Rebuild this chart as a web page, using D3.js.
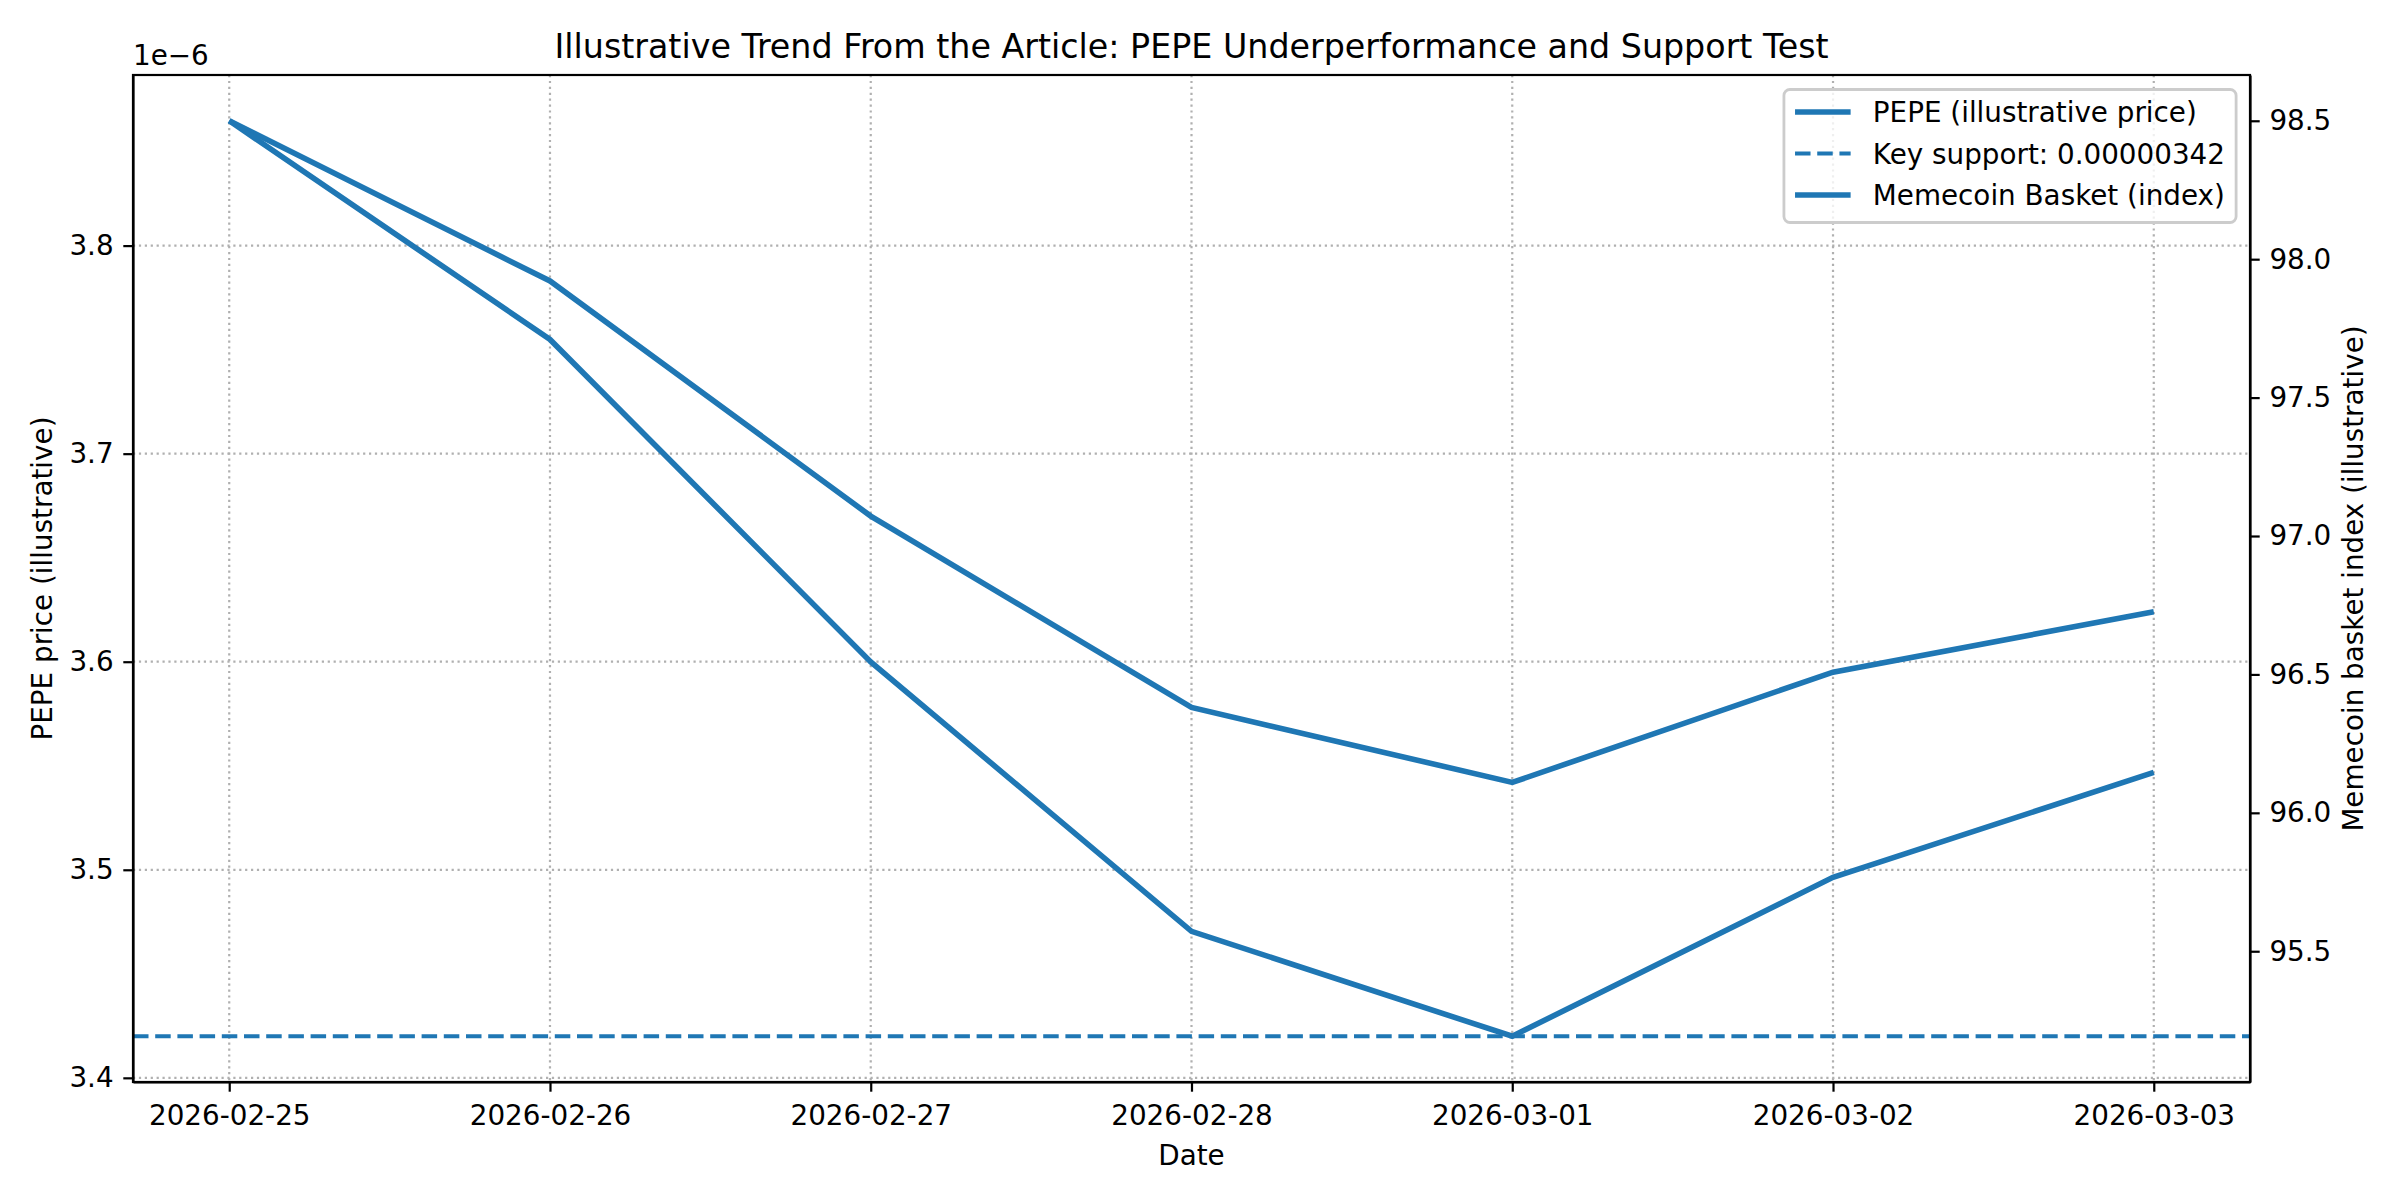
<!DOCTYPE html>
<html lang="en">
<head>
<meta charset="utf-8">
<title>PEPE Underperformance and Support Test</title>
<script src="https://cdn.jsdelivr.net/npm/d3@7/dist/d3.min.js"></script>
<style>
body { margin: 0; background: #fff; }
svg text { font-family: "DejaVu Sans", sans-serif; fill: #000; }
.axis path, .axis line { stroke: #000; stroke-width: 2.2; }
.grid line { stroke: #b0b0b0; stroke-width: 2.2; stroke-dasharray: 2.2,3.7; }
</style>
</head>
<body>
<div id="chart"></div>
<script>
// data
var dates = ['2026-02-25', '2026-02-26', '2026-02-27', '2026-02-28', '2026-03-01', '2026-03-02', '2026-03-03'];
var pepe = [3.860e-6, 3.783e-6, 3.670e-6, 3.578e-6, 3.542e-6, 3.595e-6, 3.624e-6];
var basket = [98.50, 97.71, 96.545, 95.572, 95.193, 95.767, 96.146];
var support = 3.42e-6;
var leftTicks = [3.4e-6, 3.5e-6, 3.6e-6, 3.7e-6, 3.8e-6];
var rightTicks = [95.5, 96.0, 96.5, 97.0, 97.5, 98.0, 98.5];
var legendLabels = ['PEPE (illustrative price)', 'Key support: 0.00000342', 'Memecoin Basket (index)'];

var W = 2400, H = 1200;
var margin = { top: 75, right: 150, bottom: 118, left: 133 };
var width = W - margin.left - margin.right, height = H - margin.top - margin.bottom;
var blue = '#1f77b4';
var fs = 27.8;

var parse = d3.utcParse('%Y-%m-%d');
var days = dates.map(parse);

// matplotlib-ish 5% margins
function pad(ext) {
  var r = ext[1] - ext[0];
  return [ext[0] - r * 0.05, ext[1] + r * 0.05];
}

var t0 = +days[0], t1 = +days[days.length - 1];
var xScale = d3.scaleUtc()
  .domain(pad([t0, t1]).map(function(d) { return new Date(d); }))
  .range([0, width]);

var yLeft = d3.scaleLinear()
  .domain(pad([d3.min(pepe.concat([support])), d3.max(pepe)]))
  .range([height, 0]);

var yRight = d3.scaleLinear()
  .domain(pad(d3.extent(basket)))
  .range([height, 0]);

var svg = d3.select('#chart').append('svg')
  .attr('width', W)
  .attr('height', H);

var graph = svg.append('g')
  .attr('transform', 'translate(' + margin.left + ',' + margin.top + ')');

// grid
var grid = graph.append('g').attr('class', 'grid');
grid.selectAll('.gx').data(days).enter().append('line')
  .attr('x1', function(d) { return xScale(d); })
  .attr('x2', function(d) { return xScale(d); })
  .attr('y1', 0).attr('y2', height);
grid.selectAll('.gy').data(leftTicks).enter().append('line')
  .attr('x1', 0).attr('x2', width)
  .attr('y1', function(d) { return yLeft(d); })
  .attr('y2', function(d) { return yLeft(d); });

// lines
var pepeLine = d3.line()
  .x(function(d, i) { return xScale(days[i]); })
  .y(function(d) { return yLeft(d); });
var basketLine = d3.line()
  .x(function(d, i) { return xScale(days[i]); })
  .y(function(d) { return yRight(d); });

graph.append('path')
  .datum(pepe)
  .attr('d', pepeLine)
  .attr('fill', 'none')
  .attr('stroke', blue)
  .attr('stroke-width', 5.6);

graph.append('line')
  .attr('x1', 0).attr('x2', width)
  .attr('y1', yLeft(support)).attr('y2', yLeft(support))
  .attr('stroke', blue)
  .attr('stroke-width', 4.2)
  .attr('stroke-dasharray', '15.5,6.7');

graph.append('path')
  .datum(basket)
  .attr('d', basketLine)
  .attr('fill', 'none')
  .attr('stroke', blue)
  .attr('stroke-width', 5.6);

// axes
var xAxis = graph.append('g')
  .attr('class', 'axis')
  .attr('transform', 'translate(0,' + height + ')')
  .call(d3.axisBottom(xScale).tickValues(days).tickFormat(d3.utcFormat('%Y-%m-%d'))
    .tickSize(9.7).tickPadding(13.5).tickSizeOuter(0));

var leftAxis = graph.append('g')
  .attr('class', 'axis')
  .call(d3.axisLeft(yLeft).tickValues(leftTicks)
    .tickFormat(function(d) { return d3.format('.1f')(d * 1e6); })
    .tickSize(9.7).tickPadding(9.7).tickSizeOuter(0));

var rightAxis = graph.append('g')
  .attr('class', 'axis')
  .attr('transform', 'translate(' + width + ',0)')
  .call(d3.axisRight(yRight).tickValues(rightTicks).tickFormat(d3.format('.1f'))
    .tickSize(9.7).tickPadding(9.7).tickSizeOuter(0));

graph.selectAll('.axis text').style('font-size', fs + 'px').style('font-family', '"DejaVu Sans", sans-serif');

// frame
graph.append('rect')
  .attr('width', width).attr('height', height)
  .attr('fill', 'none').attr('stroke', '#000').attr('stroke-width', 2.2);

// offset text
graph.append('text')
  .attr('x', 0).attr('y', -10)
  .style('font-size', fs + 'px')
  .text('1e\u22126');

// title and labels
svg.append('text')
  .attr('x', margin.left + width / 2).attr('y', 58)
  .attr('text-anchor', 'middle')
  .style('font-size', '33.3px')
  .text('Illustrative Trend From the Article: PEPE Underperformance and Support Test');

svg.append('text')
  .attr('x', margin.left + width / 2).attr('y', 1165)
  .attr('text-anchor', 'middle')
  .style('font-size', fs + 'px')
  .text('Date');

svg.append('text')
  .attr('transform', 'translate(52,' + (margin.top + height / 2) + ') rotate(-90)')
  .attr('text-anchor', 'middle')
  .style('font-size', fs + 'px')
  .text('PEPE price (illustrative)');

svg.append('text')
  .attr('transform', 'translate(2363,' + (margin.top + height / 2) + ') rotate(-90)')
  .attr('text-anchor', 'middle')
  .style('font-size', fs + 'px')
  .text('Memecoin basket index (illustrative)');

// legend
var legend = graph.append('g');
var box = legend.append('rect')
  .attr('rx', 6).attr('ry', 6)
  .attr('fill', 'rgba(255,255,255,0.8)')
  .attr('stroke', '#cccccc')
  .attr('stroke-width', 2.8);

var rowY = [37, 78.5, 120];
var items = legend.selectAll('.item').data(legendLabels).enter().append('g')
  .attr('transform', function(d, i) { return 'translate(0,' + rowY[i] + ')'; });

items.append('line')
  .attr('x1', 0).attr('x2', 55.6)
  .attr('stroke', blue)
  .attr('stroke-width', function(d, i) { return i === 1 ? 4.2 : 5.6; })
  .attr('stroke-dasharray', function(d, i) { return i === 1 ? '15.5,6.7' : null; });

var texts = items.append('text')
  .attr('x', 77.8).attr('dy', '0.36em')
  .style('font-size', fs + 'px')
  .text(function(d) { return d; });

var maxW = d3.max(texts.nodes(), function(n) { return n.getComputedTextLength(); });
var boxW = 11.1 + 77.8 + maxW + 11.1;
var boxRight = width - 13.9;
var boxLeft = boxRight - boxW;
items.attr('transform', function(d, i) { return 'translate(' + (boxLeft + 11.1) + ',' + rowY[i] + ')'; });
box.attr('x', boxLeft).attr('y', 14.5).attr('width', boxW).attr('height', 133);
</script>
</body>
</html>
